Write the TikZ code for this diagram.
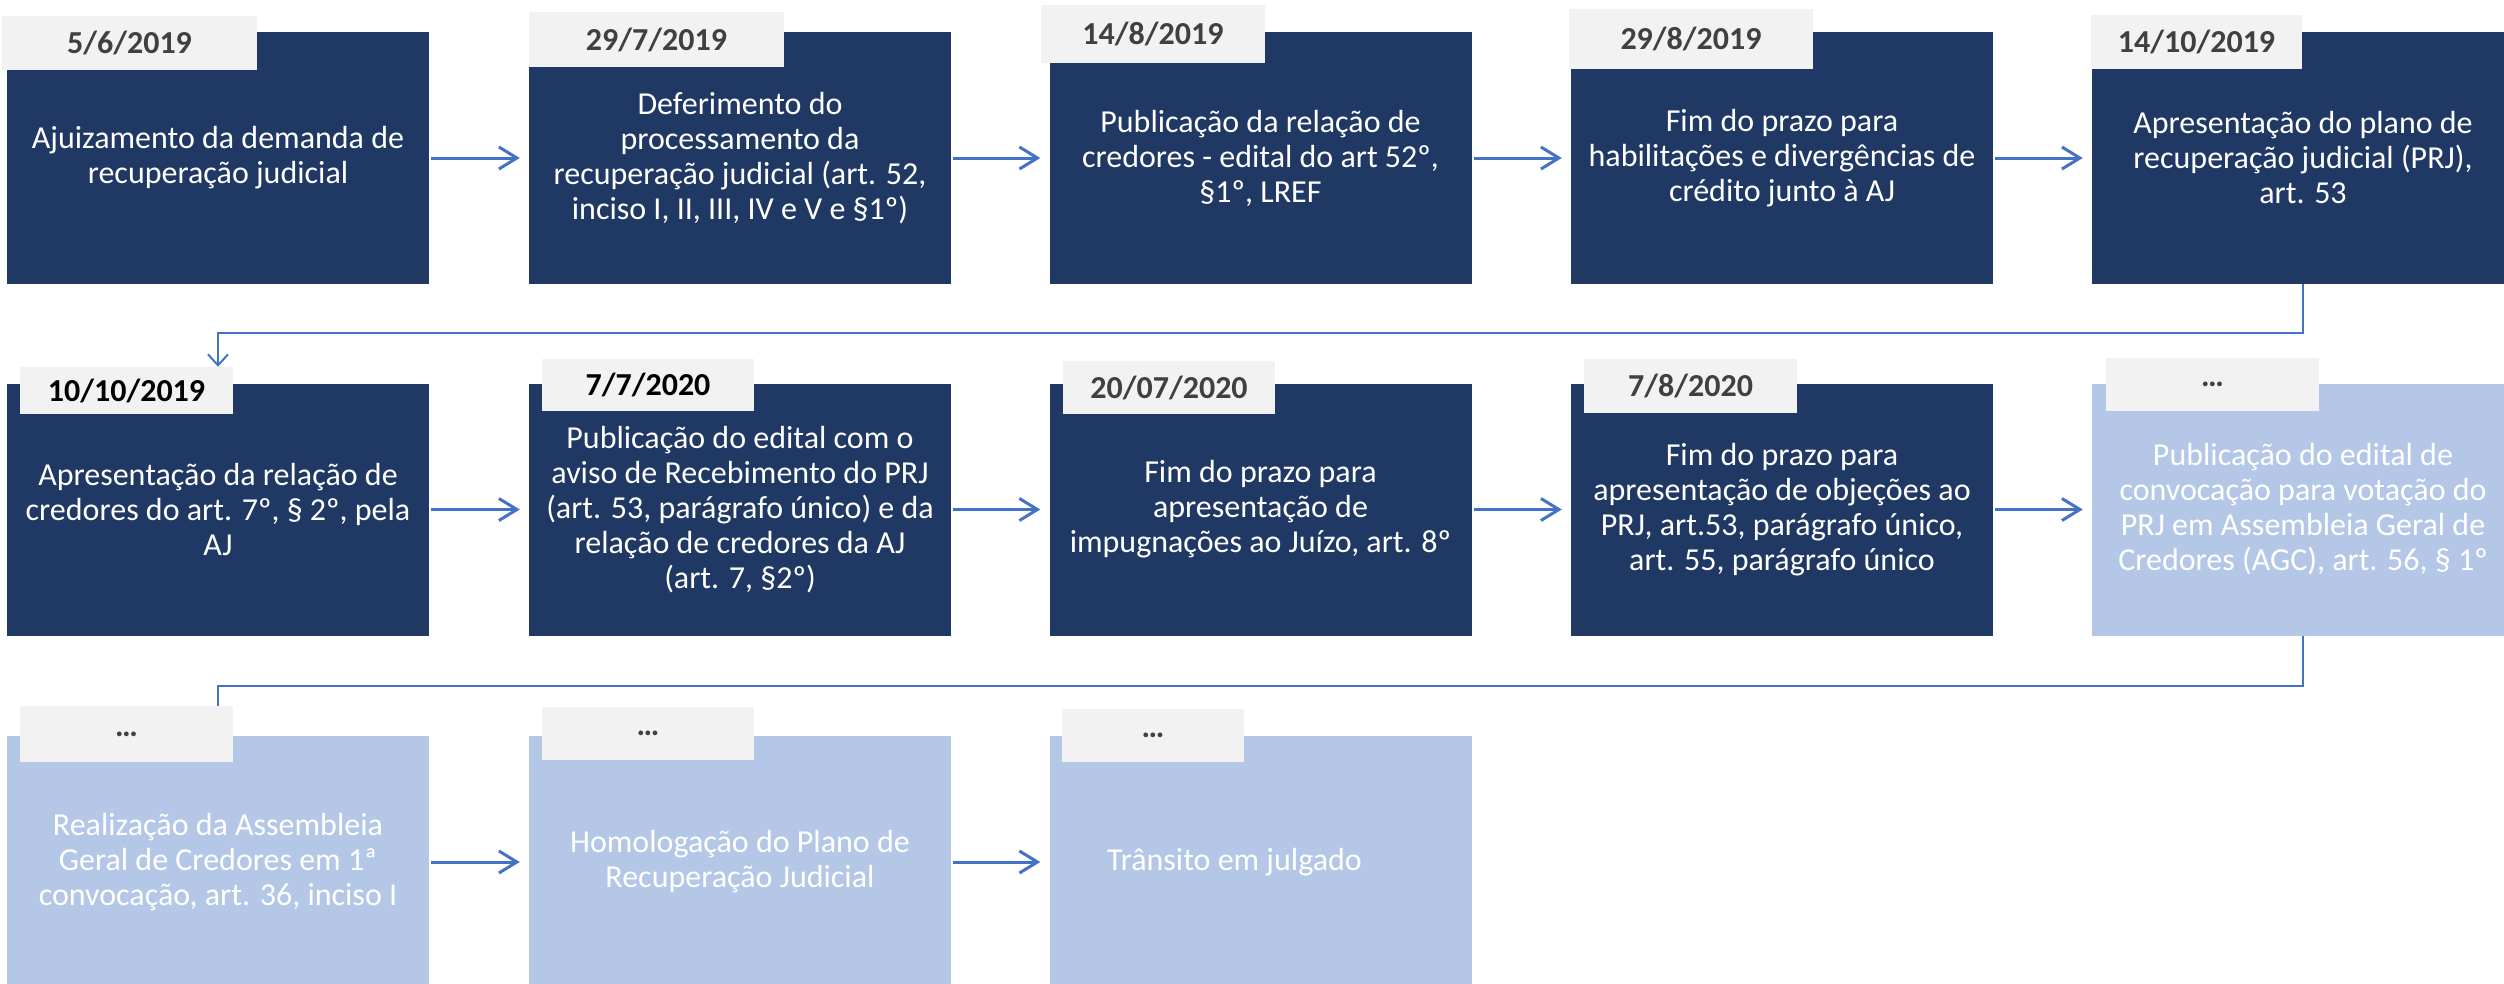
\documentclass[tikz,border=0pt]{standalone}
\usepackage{fontspec}
\setmainfont{Carlito}
\usepackage{tikz}
\usetikzlibrary{arrows.meta}
\definecolor{stagenavy}{RGB}{32, 56, 100}
\definecolor{stagelight}{RGB}{180, 199, 231}
\definecolor{tabgray}{RGB}{242, 242, 242}
\definecolor{dategray}{RGB}{64, 64, 64}
\definecolor{flowblue}{RGB}{68, 114, 196}

\begin{document}
\begin{tikzpicture}[x=1pt, y=-1pt,
  stage/.style={fill=stagenavy, text=white, minimum width=422, minimum height=252, inner sep=0pt, align=center, font=\fontsize{32}{35}\selectfont},
  later/.style={stage, fill=stagelight},
  datetab/.style={fill=tabgray, text=dategray, inner sep=0pt, font=\bfseries\fontsize{32}{38}\selectfont},
  flow/.style={->, line width=3pt, flowblue, shorten <=2pt, shorten >=9pt},
  link/.style={line width=2pt, flowblue},
  >={Straight Barb[length=18pt, width=22pt]}]
\path[use as bounding box, clip] (0,0) rectangle (2504,983);
\fill[white] (0,0) rectangle (2504,983);

% First row
\node[stage] (b1) at (218,158) {Ajuizamento da demanda de\\recuperação judicial};
\node[stage] (b2) at (740,158) {Deferimento do\\processamento da\\recuperação judicial (art. 52,\\inciso I, II, III, IV e V e §1º)};
\node[stage] (b3) at (1260.5,158) {Publicação da relação de\\credores - edital do art 52º,\\§1º, LREF};
\node[stage] (b4) at (1782,158) {Fim do prazo para\\habilitações e divergências de\\crédito junto à AJ};
\node[stage] (b5) at (2303,158) {Apresentação do plano de\\recuperação judicial (PRJ),\\art. 53};

% Second row
\node[stage] (b6) at (218,509.5) {Apresentação da relação de\\credores do art. 7º, § 2º, pela\\AJ};
\node[stage] (b7) at (740,509.5) {Publicação do edital com o\\aviso de Recebimento do PRJ\\(art. 53, parágrafo único) e da\\relação de credores da AJ\\(art. 7, §2º)};
\node[stage] (b8) at (1260.5,509.5) {Fim do prazo para\\apresentação de\\impugnações ao Juízo, art. 8º};
\node[stage] (b9) at (1782,509.5) {Fim do prazo para\\apresentação de objeções ao\\PRJ, art.53, parágrafo único,\\art. 55, parágrafo único};
\node[later] (b10) at (2303,509.5) {Publicação do edital de\\convocação para votação do\\PRJ em Assembleia Geral de\\Credores (AGC), art. 56, § 1º};

% Third row
\node[later] (b11) at (218,862) {Realização da Assembleia\\Geral de Credores em 1ª\\convocação, art. 36, inciso I};
\node[later] (b12) at (740,862) {Homologação do Plano de\\Recuperação Judicial};
\node[later] (b13) at (1260.5,862) {Trânsito em julgado\hspace*{52pt}};

% Date tabs
\node[datetab, minimum width=255, minimum height=54] (d1) at (129.5,43) {5/6/2019};
\node[datetab, minimum width=255, minimum height=55] (d2) at (656.5,39.5) {29/7/2019};
\node[datetab, minimum width=224, minimum height=58] (d3) at (1153,34) {14/8/2019};
\node[datetab, minimum width=244, minimum height=60] (d4) at (1691,39) {29/8/2019};
\node[datetab, minimum width=211, minimum height=54] (d5) at (2196.5,42) {14/10/2019};
\node[datetab, text=black, minimum width=213, minimum height=47] (d6) at (126.5,390.5) {10/10/2019};
\node[datetab, text=black, minimum width=212, minimum height=52] (d7) at (648,385) {7/7/2020};
\node[datetab, minimum width=212, minimum height=53] (d8) at (1169,387.5) {20/07/2020};
\node[datetab, minimum width=213, minimum height=54] (d9) at (1690.5,386) {7/8/2020};
\node[datetab, minimum width=213, minimum height=53] (d10) at (2212.5,384.5) {…};
\node[datetab, minimum width=213, minimum height=56] (d11) at (126.5,734) {…};
\node[datetab, minimum width=212, minimum height=53] (d12) at (648,733.5) {…};
\node[datetab, minimum width=182, minimum height=53] (d13) at (1153,735.5) {…};

% Arrows
\draw[flow] (b1) -- (b2);
\draw[flow] (b2) -- (b3);
\draw[flow] (b3) -- (b4);
\draw[flow] (b4) -- (b5);
\draw[flow] (b6) -- (b7);
\draw[flow] (b7) -- (b8);
\draw[flow] (b8) -- (b9);
\draw[flow] (b9) -- (b10);
\draw[flow] (b11) -- (b12);
\draw[flow] (b12) -- (b13);

% Row changes
\draw[link, -{Straight Barb[length=11pt, width=20pt]}] (b5.south) -- ++(0,49) -| (d6.north -| b6.north);
\draw[link] (b10.south) -- ++(0,50) -| (d11.north -| b11.north);

\end{tikzpicture}
\end{document}
